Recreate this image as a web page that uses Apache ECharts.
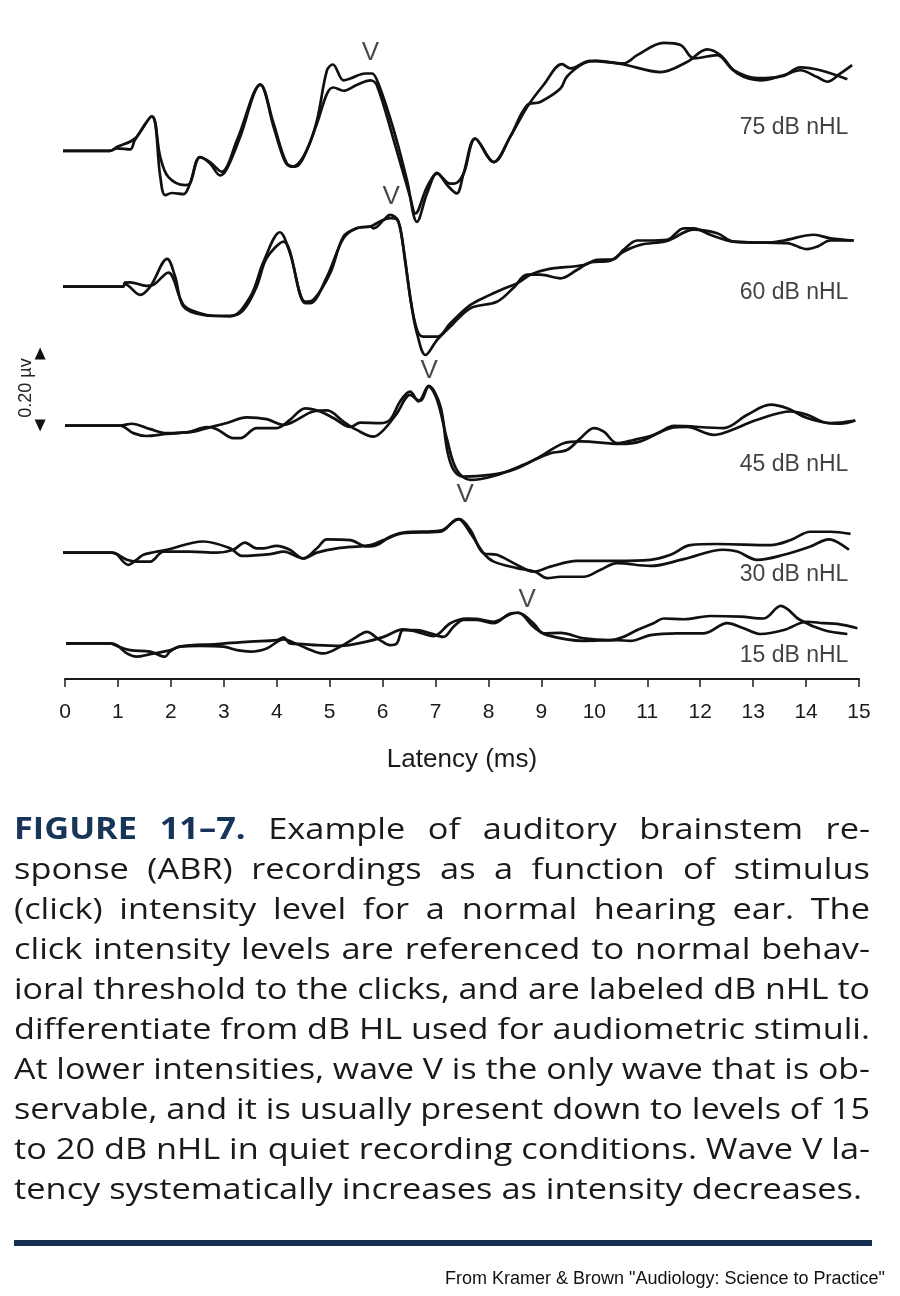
<!DOCTYPE html>
<html>
<head>
<meta charset="utf-8">
<script src="https://cdn.jsdelivr.net/npm/echarts@6/dist/echarts.min.js"></script>
<style>
  html, body { margin: 0; padding: 0; background: #fff; }
  #chart { width: 900px; height: 1296px; }
</style>
</head>
<body>
<div id="chart"></div>
<script>
// latency ticks (ms)
var ticks = [0, 1, 2, 3, 4, 5, 6, 7, 8, 9, 10, 11, 12, 13, 14, 15];

// stimulus levels, top to bottom
var levels = ['75 dB nHL', '60 dB nHL', '45 dB nHL', '30 dB nHL', '15 dB nHL'];
// where each recording sits on the page (µV above the axis)
var baselines = [1.467, 1.090, 0.704, 0.351, 0.099];

// two replicate recordings per level: [latency ms, amplitude µV]
var trace75a = [[-0.15,0],[0.85,0],[0.98,0.007],[1.23,0.004],[1.32,0.030],[1.64,0.096],[1.80,-0.072],[1.89,-0.123],[2.02,-0.117],[2.24,-0.120],[2.36,-0.091],[2.55,-0.017],[2.74,-0.035],[2.93,-0.068],[3.06,-0.049],[3.31,0.039],[3.69,0.185],[3.94,0.076],[4.19,-0.035],[4.35,-0.044],[4.57,0.002],[4.76,0.085],[4.95,0.224],[5.06,0.240],[5.26,0.196],[5.39,0.201],[5.67,0.215],[5.80,0.215],[5.92,0.187],[6.21,0.058],[6.46,-0.081],[6.65,-0.197],[6.84,-0.118],[7.03,-0.061],[7.22,-0.095],[7.40,-0.118],[7.53,-0.063],[7.75,0.034],[8.10,-0.031],[8.41,0.039],[8.73,0.122],[9.04,0.183],[9.39,0.241],[9.55,0.229],[9.92,0.250],[10.55,0.243],[10.81,0.266],[11.31,0.300],[11.63,0.294],[11.88,0.257],[12.32,0.266],[12.63,0.224],[13.08,0.202],[13.57,0.208],[13.89,0.232],[14.27,0.224],[14.78,0.199]];
var trace75b = [[-0.15,0],[0.85,0],[0.98,0.011],[1.32,0.034],[1.64,0.096],[1.80,-0.017],[1.95,-0.072],[2.27,-0.095],[2.36,-0.091],[2.55,-0.018],[2.74,-0.031],[2.96,-0.058],[3.25,0.030],[3.69,0.183],[3.94,0.067],[4.16,-0.031],[4.29,-0.044],[4.50,-0.017],[4.76,0.076],[4.95,0.159],[5.07,0.176],[5.26,0.167],[5.51,0.183],[5.77,0.196],[5.89,0.183],[6.21,0.030],[6.52,-0.128],[6.62,-0.174],[6.84,-0.100],[7.03,-0.063],[7.28,-0.091],[7.35,-0.091],[7.53,-0.063],[7.75,0.034],[8.10,-0.031],[8.41,0.039],[8.73,0.127],[8.98,0.136],[9.36,0.173],[9.48,0.206],[9.80,0.243],[10.05,0.250],[10.55,0.240],[11.25,0.219],[11.75,0.247],[12.13,0.282],[12.38,0.266],[12.70,0.215],[13.14,0.196],[13.57,0.210],[13.89,0.224],[14.21,0.205],[14.40,0.192],[14.65,0.215],[14.87,0.238]];

var trace60a = [[-0.06,0],[1.10,0],[1.13,0.011],[1.23,0.012],[1.54,0.002],[1.67,0.005],[1.95,0.039],[2.24,-0.051],[2.55,-0.074],[2.80,-0.081],[3.12,-0.081],[3.37,-0.065],[3.62,0],[3.81,0.079],[4.13,0.125],[4.54,-0.042],[4.69,-0.037],[5.01,0.037],[5.26,0.139],[5.51,0.162],[5.77,0.167],[5.95,0.181],[6.14,0.190],[6.27,0.187],[6.39,0.111],[6.52,-0.028],[6.65,-0.120],[6.77,-0.139],[7.03,-0.139],[7.28,-0.102],[7.66,-0.051],[8.03,-0.023],[8.32,-0.004],[8.54,0.009],[8.79,0.033],[9.11,0.048],[9.80,0.060],[10.05,0.074],[10.36,0.076],[10.55,0.102],[10.81,0.128],[11.00,0.128],[11.37,0.130],[11.69,0.162],[11.88,0.162],[12.19,0.144],[12.63,0.125],[13.26,0.122],[13.58,0.128],[14.15,0.144],[14.46,0.134],[14.90,0.128]];
var trace60b = [[-0.06,0],[1.10,0],[1.13,0.007],[1.42,-0.023],[1.61,0],[1.93,0.077],[2.08,0.028],[2.24,-0.056],[2.61,-0.079],[3.12,-0.083],[3.50,-0.028],[3.75,0.069],[4.06,0.151],[4.25,0.093],[4.54,-0.046],[4.63,-0.046],[4.95,0.028],[5.26,0.134],[5.51,0.162],[5.77,0.167],[5.83,0.162],[6.02,0.185],[6.14,0.199],[6.30,0.181],[6.43,0.065],[6.55,-0.056],[6.65,-0.130],[6.81,-0.190],[7.03,-0.148],[7.28,-0.111],[7.66,-0.060],[8.16,-0.042],[8.47,-0.004],[8.73,0.033],[8.98,0.033],[9.36,0.023],[9.67,0.046],[9.92,0.067],[10.30,0.072],[10.55,0.097],[10.87,0.116],[11.37,0.127],[11.88,0.158],[12.32,0.148],[12.63,0.125],[13.26,0.122],[13.64,0.121],[14.02,0.104],[14.21,0.111],[14.46,0.128],[14.90,0.128]];

var trace45a = [[0,0],[1.04,0],[1.26,0.005],[1.61,-0.010],[1.92,-0.021],[2.30,-0.019],[2.68,-0.004],[2.87,-0.010],[3.18,-0.035],[3.31,-0.035],[3.62,-0.007],[4.00,-0.007],[4.25,0.016],[4.54,0.048],[4.82,0.039],[5.07,0.021],[5.39,-0.004],[5.58,0.008],[5.95,0.007],[6.14,0.016],[6.33,0.067],[6.52,0.094],[6.68,0.067],[6.87,0.110],[7.09,0.055],[7.22,-0.068],[7.34,-0.123],[7.53,-0.142],[8.03,-0.137],[8.47,-0.123],[8.98,-0.086],[9.42,-0.049],[9.74,-0.044],[10.49,-0.051],[10.87,-0.044],[11.25,-0.017],[11.50,-0.001],[12.44,-0.007],[12.89,0.030],[13.33,0.058],[13.64,0.048],[14.02,0.021],[14.46,0.007],[14.93,0.014]];
var trace45b = [[0,0],[1.04,0],[1.29,-0.021],[1.54,-0.029],[1.92,-0.023],[2.43,-0.017],[2.68,-0.007],[3.06,0.007],[3.43,0.023],[3.81,0.018],[4.13,0.002],[4.32,0.011],[4.69,0.039],[4.95,0.042],[5.26,0.011],[5.51,-0.012],[5.83,-0.031],[6.02,-0.012],[6.27,0.034],[6.52,0.085],[6.66,0.071],[6.72,0.069],[6.87,0.108],[7.03,0.071],[7.22,-0.040],[7.40,-0.123],[7.66,-0.151],[8.10,-0.140],[8.66,-0.109],[9.17,-0.077],[9.48,-0.068],[9.74,-0.035],[9.99,-0.007],[10.18,-0.017],[10.43,-0.049],[10.74,-0.040],[11.12,-0.026],[11.44,-0.007],[11.75,-0.004],[12.26,-0.026],[12.51,-0.017],[13.08,0.016],[13.71,0.039],[14.02,0.030],[14.40,0.007],[14.65,0.005],[14.93,0.014]];

var trace30a = [[-0.06,0],[0.88,0],[0.98,-0.004],[1.10,-0.025],[1.19,-0.034],[1.35,-0.020],[1.48,-0.006],[1.92,0.008],[2.61,0.031],[3.12,0.012],[3.34,-0.009],[3.88,-0.004],[4.13,0.003],[4.50,-0.016],[4.76,0.012],[4.95,0.037],[5.39,0.035],[5.70,0.017],[5.89,0.021],[6.14,0.044],[6.39,0.056],[7.09,0.061],[7.34,0.086],[7.43,0.093],[7.66,0.054],[7.91,-0.002],[8.10,-0.025],[8.54,-0.043],[8.88,-0.053],[9.11,-0.071],[9.36,-0.067],[9.80,-0.067],[10.11,-0.048],[10.43,-0.029],[11.06,-0.037],[11.69,-0.018],[12.44,0.008],[12.70,0.003],[13.08,-0.020],[13.58,-0.006],[14.08,0.017],[14.43,0.037],[14.81,0.008]];
var trace30b = [[-0.06,0],[0.88,0],[1.17,-0.020],[1.35,-0.025],[1.61,-0.025],[1.86,0.003],[2.36,0.003],[2.87,0],[3.18,0.008],[3.40,0.028],[3.62,0.012],[3.75,0.012],[4.00,0.019],[4.25,0.008],[4.50,-0.016],[4.76,0],[5.14,0.012],[5.77,0.021],[6.02,0.035],[6.39,0.054],[7.09,0.058],[7.37,0.091],[7.45,0.093],[7.66,0.063],[7.91,-0.002],[8.16,-0.006],[8.54,-0.034],[8.85,-0.053],[9.17,-0.039],[9.67,-0.023],[10.43,-0.023],[11.06,-0.020],[11.44,-0.006],[11.81,0.021],[12.32,0.024],[13.33,0.021],[13.71,0.035],[14.08,0.058],[14.46,0.058],[14.84,0.052]];

var trace15a = [[0.02,0],[0.85,0],[0.98,-0.005],[1.17,-0.028],[1.35,-0.037],[1.61,-0.030],[1.86,-0.023],[1.98,-0.019],[2.17,-0.009],[2.55,-0.007],[2.99,-0.009],[3.25,-0.019],[3.50,-0.023],[3.81,-0.014],[4.13,0.011],[4.32,0.002],[4.57,-0.014],[4.88,-0.028],[5.20,-0.009],[5.51,0.018],[5.70,0.032],[5.95,0.009],[6.14,-0.005],[6.27,0],[6.39,0.037],[6.65,0.037],[6.90,0.028],[7.15,0.018],[7.34,0.046],[7.53,0.065],[7.78,0.065],[8.10,0.056],[8.41,0.083],[8.56,0.085],[8.85,0.056],[9.04,0.028],[9.36,0.029],[9.80,0.014],[10.30,0.009],[10.55,0.018],[10.81,0.037],[11.12,0.056],[11.31,0.069],[11.69,0.067],[12.19,0.076],[12.76,0.074],[13.20,0.069],[13.52,0.104],[13.89,0.065],[14.33,0.037],[14.78,0.026]];
var trace15b = [[0.02,0],[0.85,0],[0.98,-0.007],[1.23,-0.019],[1.61,-0.023],[1.89,-0.037],[1.98,-0.023],[2.17,-0.009],[2.87,-0.002],[3.50,0.005],[4.00,0.009],[4.13,0.017],[4.25,0],[4.50,-0.002],[4.76,-0.005],[5.20,-0.007],[5.70,0.005],[6.02,0.018],[6.39,0.039],[6.65,0.032],[6.96,0.020],[7.28,0.056],[7.59,0.069],[7.78,0.068],[8.10,0.060],[8.41,0.081],[8.56,0.085],[8.85,0.046],[9.11,0.023],[9.80,0.007],[10.43,0.009],[10.68,0.007],[11.06,0.023],[11.56,0.028],[12.07,0.028],[12.51,0.056],[12.82,0.042],[13.14,0.026],[13.58,0.037],[14.02,0.060],[14.33,0.056],[14.59,0.054],[14.97,0.042]];

var traces = [[trace75a, trace75b], [trace60a, trace60b], [trace45a, trace45b], [trace30a, trace30b], [trace15a, trace15b]];

// wave V marks [latency ms, µV] and level label anchors
var waveV = [[5.77, 1.739], [6.16, 1.339], [6.88, 0.856], [7.56, 0.511], [8.73, 0.219]];
var levelLabelPos = [[14.80, 1.532], [14.80, 1.074], [14.80, 0.596], [14.80, 0.291], [14.80, 0.066]];

// 0.20 µV calibration bar
var scaleBar = [[-0.47, 0.704], [-0.47, 0.904]];

var captionLines = [
  'FIGURE 11\u20137. Example of auditory brainstem re-',
  'sponse (ABR) recordings as a function of stimulus',
  '(click) intensity level for a normal hearing ear. The',
  'click intensity levels are referenced to normal behav-',
  'ioral threshold to the clicks, and are labeled dB nHL to',
  'differentiate from dB HL used for audiometric stimuli.',
  'At lower intensities, wave V is the only wave that is ob-',
  'servable, and it is usually present down to levels of 15',
  'to 20 dB nHL in quiet recording conditions. Wave V la-',
  'tency systematically increases as intensity decreases.'
];
var sourceNote = 'From Kramer & Brown "Audiology: Science to Practice"';

var chart = echarts.init(document.getElementById('chart'), null, { renderer: 'canvas' });

var series = [];
traces.forEach(function (pair, i) {
  pair.forEach(function (tr) {
    series.push({
      type: 'line',
      data: tr.map(function (p) { return [p[0], +(p[1] + baselines[i]).toFixed(4)]; }),
      showSymbol: false,
      symbol: 'none',
      smooth: 0.35,
      clip: false,
      lineStyle: { color: '#111', width: 2.7 },
      silent: true
    });
  });
});

// wave V markers
series.push({
  type: 'scatter',
  data: waveV,
  symbolSize: 1,
  itemStyle: { color: 'rgba(0,0,0,0)' },
  clip: false,
  label: {
    show: true, position: 'inside', formatter: 'V',
    fontFamily: '"Liberation Sans", Arial, sans-serif', fontSize: 26, color: '#1a1a1a'
  },
  silent: true
});

// level labels
series.push({
  type: 'scatter',
  data: levelLabelPos.map(function (p, i) { return { value: p, name: levels[i] }; }),
  symbolSize: 1,
  itemStyle: { color: 'rgba(0,0,0,0)' },
  clip: false,
  label: {
    show: true, position: 'inside', align: 'right', formatter: '{b}',
    fontFamily: '"Liberation Sans", Arial, sans-serif', fontSize: 23, color: '#111'
  },
  silent: true
});

// calibration bar
series.push({
  type: 'line',
  data: [
    { value: scaleBar[0], symbolRotate: 180 },
    { value: scaleBar[1], symbolRotate: 0 }
  ],
  symbol: 'triangle',
  symbolSize: [11, 12],
  showSymbol: true,
  clip: false,
  itemStyle: { color: '#111' },
  lineStyle: { color: '#111', width: 2 },
  silent: true
});

// justified caption, word by word
var measureCtx = document.createElement('canvas').getContext('2d');
function textWidth(s, font) { measureCtx.font = font; return measureCtx.measureText(s).width; }

var capSize = 30;
var capFamily = '"Open Sans", "Noto Sans", sans-serif';
var capLeft = 14, capRight = 870, capTop = 830, capStep = 40;
var lastLineRight = 862;
var regFont = 'normal ' + capSize + 'px ' + capFamily;
var boldFont = 'bold ' + capSize + 'px ' + capFamily;
var space = textWidth(' ', regFont);

// the printed face is wider than Open Sans: stretch so the unjustified last line fits its width
var lastLine = captionLines[captionLines.length - 1];
var stretch = (lastLineRight - capLeft) / textWidth(lastLine, regFont);

var graphics = [];
captionLines.forEach(function (line, li) {
  var words = line.split(' ');
  var fonts = words.map(function (w, wi) { return (li === 0 && wi < 2) ? boldFont : regFont; });
  var widths = words.map(function (w, wi) { return textWidth(w, fonts[wi]); });
  var sum = widths.reduce(function (a, b) { return a + b; }, 0);
  var avail = capRight - capLeft;
  var s = stretch;
  var natural = (sum + space * (words.length - 1)) * s;
  var gap = space * s;
  if (natural > avail) {
    s = avail / (sum + space * (words.length - 1));
    gap = space * s;
  } else if (li < captionLines.length - 1) {
    gap = (avail - sum * s) / (words.length - 1);
  }
  var x = capLeft;
  words.forEach(function (w, wi) {
    var bold = fonts[wi] === boldFont;
    graphics.push({
      type: 'text',
      x: x, y: capTop + li * capStep,
      scaleX: s,
      silent: true,
      style: {
        text: w,
        font: fonts[wi],
        fill: bold ? '#173459' : '#1a1a1a',
        verticalAlign: 'middle',
        align: 'left'
      }
    });
    x += widths[wi] * s + gap;
  });
});

graphics.push({
  type: 'rect', silent: true,
  shape: { x: 14, y: 1240, width: 858, height: 6 },
  style: { fill: '#142f50' }
});
graphics.push({
  type: 'text', x: 885, y: 1279, silent: true,
  style: {
    text: sourceNote,
    font: 'normal 18px "Liberation Sans", Arial, sans-serif',
    fill: '#111', align: 'right', verticalAlign: 'middle'
  }
});
graphics.push({
  type: 'text', x: 26, y: 388, rotation: Math.PI / 2, silent: true,
  style: {
    text: '0.20 \u00b5v',
    font: 'normal 18px "Liberation Sans", Arial, sans-serif',
    fill: '#222', align: 'center', verticalAlign: 'middle'
  }
});

chart.setOption({
  animation: false,
  backgroundColor: '#fff',
  grid: { left: 65, right: 41, top: 40, bottom: 617, containLabel: false },
  xAxis: {
    type: 'value',
    min: ticks[0],
    max: ticks[ticks.length - 1],
    interval: 1,
    name: 'Latency (ms)',
    nameLocation: 'middle',
    nameGap: 68,
    nameTextStyle: { fontFamily: '"Liberation Sans", Arial, sans-serif', fontSize: 26, color: '#1a1a1a' },
    axisLine: { show: true, lineStyle: { color: '#1a1a1a', width: 2 } },
    axisTick: { show: true, inside: false, length: 8, lineStyle: { color: '#1a1a1a', width: 1.5 } },
    axisLabel: { margin: 23, fontFamily: '"Liberation Sans", Arial, sans-serif', fontSize: 21, color: '#1a1a1a' },
    splitLine: { show: false }
  },
  yAxis: {
    type: 'value',
    min: 0,
    max: 1.775,
    show: false,
    splitLine: { show: false }
  },
  series: series,
  graphic: graphics
});
</script>
</body>
</html>
